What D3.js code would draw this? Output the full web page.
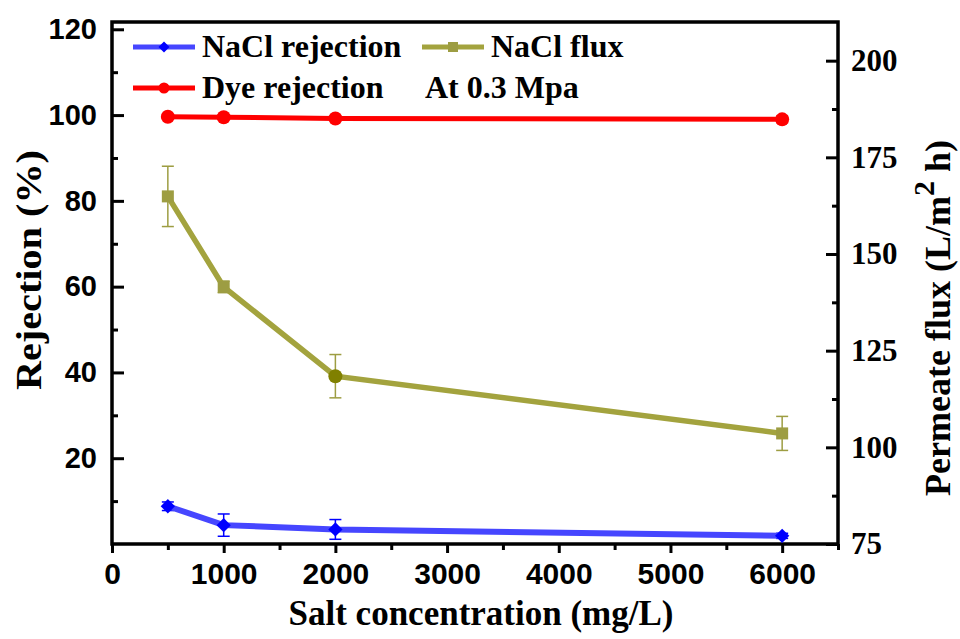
<!DOCTYPE html>
<html>
<head>
<meta charset="utf-8">
<script src="https://cdn.jsdelivr.net/npm/d3@7/dist/d3.min.js"></script>
<style>
  html, body { margin: 0; padding: 0; background: #fff; }
  svg { display: block; }
  .sans { font-family: "Liberation Sans", Arial, sans-serif; font-weight: bold; }
  .serif { font-family: "Liberation Serif", "Times New Roman", serif; font-weight: bold; }
</style>
</head>
<body>
<div id="chart"></div>
<script>
// data
var concentrations = [500, 1000, 2000, 6000];
var naclRejection = [8.8, 4.4, 3.4, 1.9];
var naclRejectionErr = [1.0, 2.6, 2.3, 0.6];
var dyeRejection = [99.6, 99.5, 99.2, 99.0];
var dyeRejectionErr = [0.4, 0.4, 0.4, 0.8];
var naclFlux = [164.9, 141.5, 118.4, 103.6];
var naclFluxErr = [7.8, 1.5, 5.6, 4.4];
var fluxMarkers = ["square", "square", "circle", "square"];

var xTicks = [0, 1000, 2000, 3000, 4000, 5000, 6000];
var xMinorTicks = [500, 1500, 2500, 3500, 4500, 5500, 6500];
var leftTicks = [20, 40, 60, 80, 100, 120];
var leftMinorTicks = [10, 30, 50, 70, 90, 110];
var rightTicks = [75, 100, 125, 150, 175, 200];
var rightMinorTicks = [87.5, 112.5, 137.5, 162.5, 187.5];

var W = 960, H = 639;
var margins = { top: 22, right: 122, bottom: 95, left: 112 };
var chartWidth = W - margins.left - margins.right;
var chartHeight = H - margins.top - margins.bottom;

var svg = d3.select("#chart").append("svg")
  .attr("width", W)
  .attr("height", H);

var g = svg.append("g")
  .attr("transform", `translate(${margins.left},${margins.top})`);

var xScale = d3.scaleLinear().domain([0, 6500]).range([0, chartWidth]);
var yLeft = d3.scaleLinear().domain([0, 121.7]).range([chartHeight, 0]);
var yRight = d3.scaleLinear().domain([75, 210]).range([chartHeight, 0]);

// axes
var xAxis = g.append("g")
  .attr("transform", `translate(0,${chartHeight})`)
  .call(d3.axisBottom(xScale).tickValues(xTicks).tickSize(9).tickSizeOuter(0).tickPadding(10).tickFormat(d => d));
g.append("g")
  .attr("transform", `translate(0,${chartHeight})`)
  .call(d3.axisBottom(xScale).tickValues(xMinorTicks).tickSize(6).tickSizeOuter(0).tickFormat(""));

var lAxis = g.append("g")
  .call(d3.axisLeft(yLeft).tickValues(leftTicks).tickSize(-12).tickSizeOuter(0).tickPadding(15));
g.append("g")
  .call(d3.axisLeft(yLeft).tickValues(leftMinorTicks).tickSize(-6).tickSizeOuter(0).tickFormat(""));

var rAxis = g.append("g")
  .attr("transform", `translate(${chartWidth},0)`)
  .call(d3.axisRight(yRight).tickValues(rightTicks).tickSize(-12).tickSizeOuter(0).tickPadding(13));
g.append("g")
  .attr("transform", `translate(${chartWidth},0)`)
  .call(d3.axisRight(yRight).tickValues(rightMinorTicks).tickSize(-6).tickSizeOuter(0).tickFormat(""));

g.selectAll(".domain").remove();
g.selectAll(".tick line").attr("stroke", "#000").attr("stroke-width", 3);

xAxis.selectAll("text").attr("class", "sans").style("font-size", "30px").attr("fill", "#000");
lAxis.selectAll("text").attr("class", "sans").style("font-size", "29px").attr("fill", "#000");
rAxis.selectAll("text").attr("class", "serif").style("font-size", "31px").attr("fill", "#000");

// frame
g.append("rect")
  .attr("width", chartWidth)
  .attr("height", chartHeight)
  .attr("fill", "none")
  .attr("stroke", "#000")
  .attr("stroke-width", 3.5);

// series
var series = [
  { name: "NaCl rejection", values: naclRejection, err: naclRejectionErr, y: yLeft,
    line: "#4646ff", mark: "#0000ff", width: 6, markers: ["diamond", "diamond", "diamond", "diamond"] },
  { name: "NaCl flux", values: naclFlux, err: naclFluxErr, y: yRight,
    line: "#a3a33e", mark: "#9d9d42", width: 5.5, markers: fluxMarkers },
  { name: "Dye rejection", values: dyeRejection, err: dyeRejectionErr, y: yLeft,
    line: "#ff0000", mark: "#ff0000", width: 5, markers: ["circle", "circle", "circle", "circle"] }
];

var drawMarker = function(sel, shape, x, y, color, size) {
  if (shape === "circle") {
    sel.append("circle").attr("cx", x).attr("cy", y).attr("r", size * 0.5).attr("fill", color);
  } else if (shape === "square") {
    sel.append("rect").attr("x", x - size / 2).attr("y", y - size / 2)
      .attr("width", size).attr("height", size).attr("fill", color);
  } else {
    var s = size * 0.55;
    sel.append("path")
      .attr("d", `M${x},${y - s}L${x + s},${y}L${x},${y + s}L${x - s},${y}Z`)
      .attr("fill", color);
  }
};

series.forEach(function(s) {
  var pts = concentrations.map((c, i) => ({ x: c, v: s.values[i], e: s.err[i], m: s.markers[i] }));
  var sg = g.append("g").attr("class", "series " + s.name);

  // error bars
  pts.forEach(function(p) {
    var x = xScale(p.x), y0 = s.y(p.v - p.e), y1 = s.y(p.v + p.e);
    sg.append("line").attr("x1", x).attr("x2", x).attr("y1", y0).attr("y2", y1)
      .attr("stroke", s.mark).attr("stroke-width", 1.5);
    [y0, y1].forEach(function(yy) {
      sg.append("line").attr("x1", x - 6).attr("x2", x + 6).attr("y1", yy).attr("y2", yy)
        .attr("stroke", s.mark).attr("stroke-width", 1.5);
    });
  });

  var line = d3.line().x(d => xScale(d.x)).y(d => s.y(d.v));
  sg.append("path").datum(pts)
    .attr("d", line)
    .attr("fill", "none")
    .attr("stroke", s.line)
    .attr("stroke-width", s.width);

  pts.forEach(function(p) {
    var color = (p.m === "circle" && s.name === "NaCl flux") ? "#808000" : s.mark;
    var size = p.m === "diamond" ? 13 : (p.m === "circle" ? 14 : 12);
    drawMarker(sg, p.m, xScale(p.x), s.y(p.v), color, size);
  });
});

// legend
var legendItems = [
  { name: "NaCl rejection", color: "#4646ff", mark: "#0000ff", shape: "diamond", x: 21, y: 25 },
  { name: "NaCl flux", color: "#a3a33e", mark: "#9d9d42", shape: "square", x: 310, y: 25 },
  { name: "Dye rejection", color: "#ff0000", mark: "#ff0000", shape: "circle", x: 21, y: 66 }
];

var legend = g.append("g").attr("class", "legend");
legendItems.forEach(function(d) {
  legend.append("line")
    .attr("x1", d.x).attr("x2", d.x + 62)
    .attr("y1", d.y).attr("y2", d.y)
    .attr("stroke", d.color).attr("stroke-width", 5);
  drawMarker(legend, d.shape, d.x + 31, d.y, d.mark, d.shape === "circle" ? 11 : 10);
  legend.append("text")
    .attr("class", "serif")
    .attr("x", d.x + 69)
    .attr("y", d.y + 10)
    .style("font-size", "32px")
    .text(d.name);
});
legend.append("text")
  .attr("class", "serif")
  .attr("x", 313)
  .attr("y", 76)
  .style("font-size", "32px")
  .text("At 0.3 Mpa");

// axis titles
svg.append("text")
  .attr("class", "serif")
  .attr("x", margins.left + xScale(3250) + 6)
  .attr("y", 625)
  .attr("text-anchor", "middle")
  .style("font-size", "35px")
  .text("Salt concentration (mg/L)");

svg.append("text")
  .attr("class", "serif")
  .attr("transform", "translate(41,270) rotate(-90)")
  .attr("text-anchor", "middle")
  .style("font-size", "35px")
  .attr("textLength", 240)
  .attr("lengthAdjust", "spacingAndGlyphs")
  .text("Rejection (%)");

var rt = svg.append("text")
  .attr("class", "serif")
  .attr("transform", "translate(950,318) rotate(-90)")
  .attr("text-anchor", "middle")
  .style("font-size", "36px");
rt.append("tspan").text("Permeate flux (L/m");
rt.append("tspan").attr("dy", -16).style("font-size", "30px").text("2");
rt.append("tspan").attr("dy", 16).text(" h)");
</script>
</body>
</html>
